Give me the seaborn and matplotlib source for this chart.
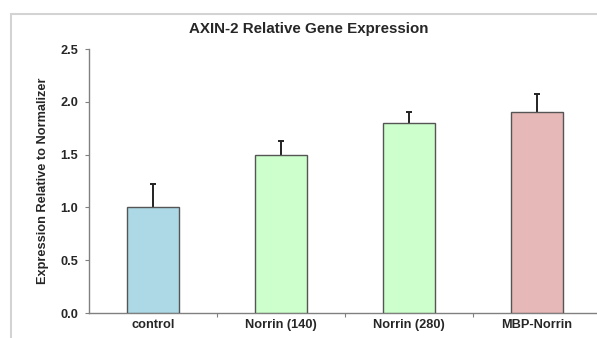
import matplotlib
matplotlib.use("Agg")
import matplotlib.pyplot as plt
import seaborn as sns
import pandas as pd
from matplotlib.patches import Rectangle

categories = ["control", "Norrin (140)", "Norrin (280)", "MBP-Norrin"]
values = [1.00, 1.50, 1.80, 1.90]
errors = [0.22, 0.13, 0.10, 0.17]
colors = ["#add8e6", "#ccffcc", "#ccffcc", "#e6b8b7"]
yticks = [0.0, 0.5, 1.0, 1.5, 2.0, 2.5]

sns.set_style("white")
plt.rcParams["font.family"] = ["Liberation Sans", "DejaVu Sans"]
plt.rcParams["font.weight"] = "bold"

df = pd.DataFrame({"cat": categories, "val": values})
tops = [v + e for v, e in zip(values, errors)]

fig = plt.figure(figsize=(5.97, 3.38), dpi=100)
ax = fig.add_axes([89/597, 1-313/338, (601-89)/597, (313-49)/338])

sns.barplot(data=df, x="cat", y="val", hue="cat", palette=colors, legend=False,
            saturation=1, width=0.4, edgecolor="#555555", linewidth=1.0, ax=ax,
            errorbar=None, zorder=3)
ax.errorbar(range(len(categories)), values, yerr=[[0]*4, errors], fmt="none",
            ecolor="#222222", elinewidth=1.4, capsize=0, zorder=2)
ax.plot(range(len(categories)), tops, linestyle="none", marker="_", markersize=4,
        markeredgewidth=1.4, color="#222222", zorder=2)

ax.set_xlim(-0.5, 3.5)
ax.set_ylim(0, 2.5)
ax.set_yticks(yticks)
ax.set_yticklabels([f"{t:.1f}" for t in yticks], fontsize=9.2, fontweight="bold")
ax.set_xticks([0.5, 1.5, 2.5])
ax.set_xticklabels([])
for i, c in enumerate(categories):
    ax.text(i, -0.06, c, ha="center", va="top", fontsize=9.2, fontweight="bold",
            transform=ax.transData)
ax.tick_params(axis="both", direction="out", length=3, width=0.8, color="#808080",
               left=True, bottom=True)
ax.tick_params(axis="y", pad=5)
ax.set_xlabel("")
ax.set_ylabel("Expression Relative to Normalizer", fontsize=9.2, fontweight="bold", labelpad=8)
for s in ["top", "right"]:
    ax.spines[s].set_visible(False)
for s in ["left", "bottom"]:
    ax.spines[s].set_color("#808080")
    ax.spines[s].set_linewidth(1.0)

fig.text(309/597, 1-29/338, "AXIN-2 Relative Gene Expression", ha="center", va="center",
         fontsize=10.9, fontweight="bold")
fig.patches.append(Rectangle((11/597, -0.1), 1.2, 1.1 - 14/338, transform=fig.transFigure,
                             fill=False, edgecolor="#d3d3d3", linewidth=1.5))

fig.savefig("out.png", dpi=100)
